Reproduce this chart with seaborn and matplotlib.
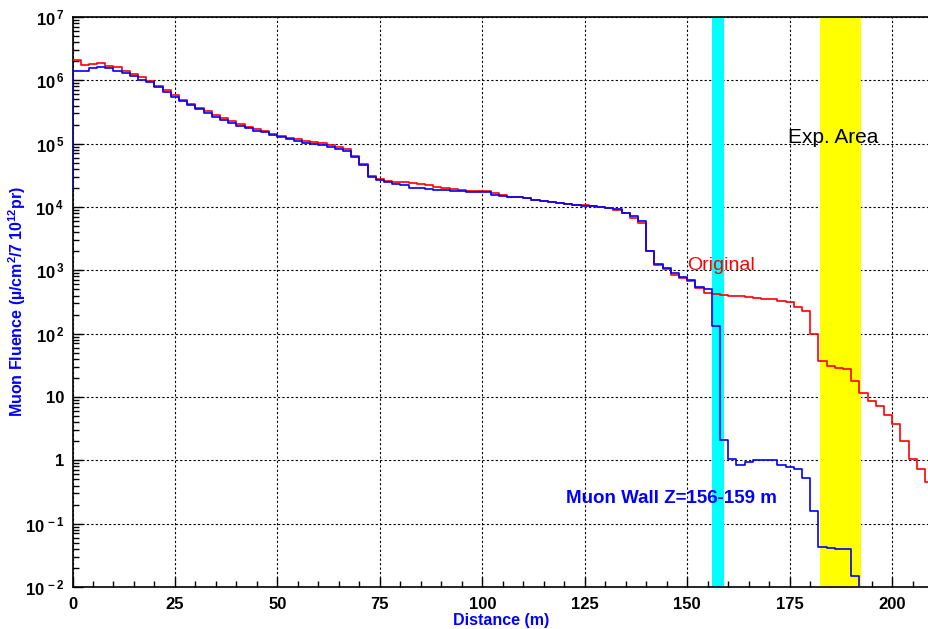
import numpy as np
import pandas as pd
import matplotlib
matplotlib.use("Agg")
import matplotlib.pyplot as plt
import seaborn as sns
from matplotlib import font_manager
from matplotlib.ticker import FixedLocator, MultipleLocator, FuncFormatter, NullFormatter

# ---------------- data ----------------
bin_width = 2.0  # m

red_values = [
    2.07e6, 1.77e6, 1.83e6, 1.90e6, 1.70e6, 1.61e6, 1.42e6, 1.26e6, 1.12e6, 9.66e5,
    8.23e5, 6.95e5, 5.80e5, 4.89e5, 4.22e5, 3.65e5, 3.24e5, 2.86e5, 2.54e5, 2.25e5,
    2.04e5, 1.85e5, 1.68e5, 1.57e5, 1.42e5, 1.31e5, 1.25e5, 1.19e5, 1.11e5, 1.06e5,
    1.01e5, 9.4e4, 8.85e4, 8.1e4, 6.3e4, 4.83e4, 3.05e4, 2.73e4, 2.60e4, 2.51e4,
    2.45e4, 2.37e4, 2.28e4, 2.20e4, 2.09e4, 2.00e4, 1.92e4, 1.85e4, 1.81e4, 1.81e4,
    1.79e4, 1.64e4, 1.55e4, 1.46e4, 1.44e4, 1.37e4, 1.29e4, 1.24e4, 1.20e4, 1.16e4,
    1.11e4, 1.09e4, 1.07e4, 1.03e4, 1.00e4, 9.6e3, 9.0e3, 7.95e3, 6.6e3, 5.5e3,
    2.02e3, 1.21e3, 1.04e3, 8.4e2, 7.5e2, 6.85e2, 5.2e2, 4.34e2, 4.18e2, 4.07e2,
    3.93e2, 3.93e2, 3.75e2, 3.61e2, 3.48e2, 3.48e2, 3.31e2, 3.16e2, 2.67e2, 2.28e2,
    98.9, 36.6, 30.8, 28.4, 27.3, 17.7, 11.7, 8.65, 7.2, 5.14,
    3.7, 2.02, 1.06, 0.72, 0.46,
]

blue_values = [
    1.39e6, 1.39e6, 1.55e6, 1.62e6, 1.55e6, 1.40e6, 1.29e6, 1.17e6, 1.02e6, 9.3e5,
    7.77e5, 6.46e5, 5.5e5, 4.72e5, 4.08e5, 3.52e5, 3.05e5, 2.67e5, 2.37e5, 2.09e5,
    1.92e5, 1.77e5, 1.60e5, 1.53e5, 1.37e5, 1.26e5, 1.17e5, 1.10e5, 1.04e5, 9.9e4,
    9.4e4, 8.75e4, 8.3e4, 7.74e4, 6.08e4, 4.65e4, 2.94e4, 2.63e4, 2.51e4, 2.31e4,
    2.20e4, 2.02e4, 2.02e4, 1.95e4, 1.87e4, 1.85e4, 1.81e4, 1.79e4, 1.75e4, 1.75e4,
    1.73e4, 1.57e4, 1.47e4, 1.46e4, 1.44e4, 1.37e4, 1.29e4, 1.24e4, 1.20e4, 1.16e4,
    1.11e4, 1.09e4, 1.05e4, 1.02e4, 1.00e4, 9.6e3, 9.2e3, 8.1e3, 7.3e3, 6.1e3,
    2.02e3, 1.24e3, 1.08e3, 8.97e2, 7.85e2, 7.0e2, 5.4e2, 5.13e2, 1.32e2, 2.1,
    1.05, 0.84, 0.95, 1.02, 1.02, 1.0, 0.84, 0.78, 0.74, 0.53,
    0.158, 0.043, 0.0417, 0.040, 0.040, 0.0149, 0.005,
]
blue_left_edge = 1.9e4

muon_wall = (156.0, 159.0)
exp_area = (182.5, 192.4)

x_ticks = [0, 25, 50, 75, 100, 125, 150, 175, 200]
y_exponents = [-2, -1, 0, 1, 2, 3, 4, 5, 6, 7]

# ---------------- build step tables ----------------
def step_frame(values, series, left=None):
    edges = np.arange(len(values) + 1) * bin_width
    xs = list(edges)
    ys = list(values) + [values[-1]]
    if left is not None:
        xs = [0.0] + xs
        ys = [left] + ys
    return pd.DataFrame({"distance": xs, "fluence": ys, "series": series})

red_df = step_frame(red_values, "Original")
blue_df = step_frame(blue_values, "Muon Wall", left=blue_left_edge)

# ---------------- style ----------------
sns.set_theme(style="white")
plt.rcParams["font.family"] = ["Liberation Sans", "DejaVu Sans"]
plt.rcParams["mathtext.fontset"] = "custom"
plt.rcParams["mathtext.rm"] = "Liberation Sans:bold"
plt.rcParams["mathtext.bf"] = "Liberation Sans:bold"
plt.rcParams["mathtext.it"] = "Liberation Sans:bold"

installed = {f.name for f in font_manager.fontManager.ttflist}
narrow = "Liberation Sans Narrow" if "Liberation Sans Narrow" in installed else "Liberation Sans"

fig = plt.figure(figsize=(9.29, 6.29), dpi=100)
ax = fig.add_axes([72.5 / 929, 1 - 587 / 629, (929 - 72.5) / 929, (587 - 17) / 629])

ax.set_axisbelow(True)
ax.axvspan(*muon_wall, color="#00ffff", lw=0, zorder=1)
ax.axvspan(*exp_area, color="#ffff00", lw=0, zorder=1)

sns.lineplot(data=red_df, x="distance", y="fluence", color="#ff0000", lw=1.2,
             drawstyle="steps-post", ax=ax, zorder=3, legend=False, estimator=None, sort=False)
sns.lineplot(data=blue_df, x="distance", y="fluence", color="#0000ff", lw=1.2,
             drawstyle="steps-post", ax=ax, zorder=4, legend=False, estimator=None, sort=False)

ax.set_yscale("log")
ax.set_xlim(0, 209)
ax.set_ylim(1e-2, 1e7)

# ticks
ax.xaxis.set_major_locator(FixedLocator(x_ticks))
ax.xaxis.set_minor_locator(MultipleLocator(5))
ax.xaxis.set_major_formatter(FuncFormatter(lambda v, p: f"{int(round(v))}"))
ax.yaxis.set_major_locator(FixedLocator([10.0 ** e for e in y_exponents]))
ax.yaxis.set_minor_locator(FixedLocator([m * 10.0 ** e for e in y_exponents[:-1] for m in range(2, 10)]))
ax.yaxis.set_minor_formatter(NullFormatter())

def ylab(v, p):
    e = int(round(np.log10(v)))
    if e == 0:
        return "1"
    if e == 1:
        return "10"
    return r"$10^{\,%d}$" % e

ax.yaxis.set_major_formatter(FuncFormatter(ylab))

ax.tick_params(axis="both", which="both", direction="in", colors="black",
               bottom=True, left=True, top=False, right=False)
ax.tick_params(axis="x", which="major", length=7, width=1, pad=7, labelsize=12)
ax.tick_params(axis="x", which="minor", length=4, width=1)
ax.tick_params(axis="y", which="major", length=7, width=1, pad=6, labelsize=12)
ax.tick_params(axis="y", which="minor", length=4.5, width=1)
for lab in ax.get_xticklabels():
    lab.set_fontweight("bold")
    lab.set_family([narrow, "Liberation Sans"])
for lab in ax.get_yticklabels():
    lab.set_fontweight("bold")

ax.grid(True, which="major", color="black", linestyle=(0, (2, 2)), linewidth=0.8)

for s in ["left", "bottom", "top", "right"]:
    ax.spines[s].set_color("black")
    ax.spines[s].set_linewidth(1.2)

ax.set_xlabel("Distance (m)", color="#0000ff", fontweight="bold", fontsize=11.5,
              family=[narrow, "Liberation Sans"])
ax.xaxis.set_label_coords(0.5, -(613 - 587) / 570)
ax.set_ylabel(r"Muon Fluence (µ/cm$^{2}$/7 10$^{12}$pr)", color="#0000ff",
              fontweight="bold", fontsize=11.5)
ax.yaxis.set_label_coords(-(72.5 - 28) / 856.5, 0.5)

ax.text(150.0, 1.2e3, "Original", color="#ff0000", fontsize=14, va="center", ha="left", zorder=5)
ax.text(174.5, 1.23e5, "Exp. Area", color="black", fontsize=15, va="center", ha="left", zorder=5)
ax.text(120.4, 0.254, "Muon Wall Z=156-159 m", color="#0000ff", fontsize=13.5,
        fontweight="bold", va="center", ha="left", zorder=5)

fig.savefig("out.png", dpi=100, facecolor="white")
